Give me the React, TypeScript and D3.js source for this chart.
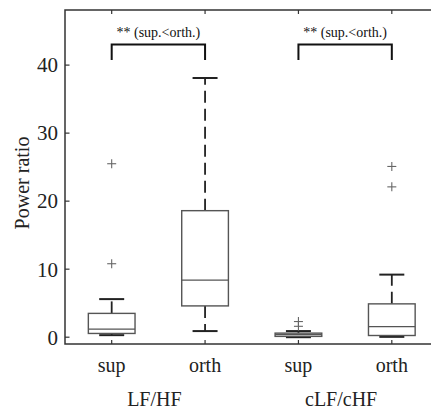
import React from "react";
import * as d3 from "d3";

// Box-plot statistics per category (power ratio)
const groups = ["LF/HF", "cLF/cHF"];
const categories = ["sup", "orth", "sup", "orth"];
const lowerWhisker = [0.3, 0.9, 0.0, 0.05];
const q1 = [0.55, 4.6, 0.12, 0.25];
const median = [1.2, 8.4, 0.4, 1.55];
const q3 = [3.5, 18.6, 0.6, 4.9];
const upperWhisker = [5.6, 38.1, 0.9, 9.2];
const outliers = [[10.8, 25.5], [], [1.6, 2.3], [22.1, 25.1]];
const yTicks = [0, 10, 20, 30, 40];
const significance = ["** (sup.<orth.)", "** (sup.<orth.)"];

const W = 431;
const H = 413;
const left = 65;
const top = 10;
const bottom = 344;
const right = 438.5;

const FONT = "'Liberation Serif', 'Times New Roman', serif";

export default function App() {
  const x = d3.scaleLinear().domain([0.5, 4.5]).range([left, right]);
  const y = d3.scaleLinear().domain([-1, 48.1]).range([bottom, top]);
  const boxHalf = x(1.25) - x(1);
  const capHalf = 12.5;
  const boxColor = "#555";
  const axisColor = "#333";
  const whiskerColor = "#222";

  return (
    <svg
      width={W}
      height={H}
      style={{ position: "absolute", left: 0, top: 0, background: "#fff" }}
      fontFamily={FONT}
    >
      <rect x={0} y={0} width={W} height={H} fill="#fff" />
      {/* frame */}
      <rect
        x={left}
        y={top}
        width={right - left}
        height={bottom - top}
        fill="none"
        stroke={axisColor}
        strokeWidth={1.5}
      />
      {/* y ticks */}
      {yTicks.map((t) => (
        <g key={"yt" + t}>
          <line x1={left} x2={left + 4.5} y1={y(t)} y2={y(t)} stroke={axisColor} strokeWidth={1.2} />
          <text x={58} y={y(t)} dy="0.35em" textAnchor="end" fontSize={21} fill="#222">
            {t}
          </text>
        </g>
      ))}
      {/* x ticks and labels */}
      {categories.map((c, i) => {
        const cx = x(i + 1);
        return (
          <g key={"xt" + i}>
            <line x1={cx} x2={cx} y1={bottom} y2={bottom - 4} stroke={axisColor} strokeWidth={1.2} />
            <line x1={cx} x2={cx} y1={top} y2={top + 4} stroke={axisColor} strokeWidth={1.2} />
            <text x={cx} y={372} textAnchor="middle" fontSize={20} fill="#222">
              {c}
            </text>
          </g>
        );
      })}
      {groups.map((g, gi) => (
        <text
          key={"g" + gi}
          x={(x(gi * 2 + 1) + x(gi * 2 + 2)) / 2 - 4}
          y={406}
          textAnchor="middle"
          fontSize={20}
          fill="#222"
        >
          {g}
        </text>
      ))}
      <text
        transform={`translate(29, ${(top + bottom) / 2 + 6}) rotate(-90)`}
        textAnchor="middle"
        fontSize={20}
        fill="#222"
      >
        Power ratio
      </text>
      {/* boxes */}
      {categories.map((c, i) => {
        const cx = x(i + 1);
        return (
          <g key={"b" + i} fill="none">
            <line
              x1={cx}
              x2={cx}
              y1={y(q3[i])}
              y2={y(upperWhisker[i])}
              stroke={whiskerColor}
              strokeWidth={1.8}
              strokeDasharray="12,6"
            />
            <line
              x1={cx}
              x2={cx}
              y1={y(q1[i])}
              y2={y(lowerWhisker[i])}
              stroke={whiskerColor}
              strokeWidth={1.8}
              strokeDasharray="12,6"
            />
            <line x1={cx - capHalf} x2={cx + capHalf} y1={y(upperWhisker[i])} y2={y(upperWhisker[i])} strokeWidth={2} stroke={whiskerColor} />
            <line x1={cx - capHalf} x2={cx + capHalf} y1={y(lowerWhisker[i])} y2={y(lowerWhisker[i])} strokeWidth={2} stroke={whiskerColor} />
            <rect
              x={cx - boxHalf}
              y={y(q3[i])}
              width={boxHalf * 2}
              height={y(q1[i]) - y(q3[i])}
              fill="#fff"
              stroke={boxColor}
              strokeWidth={1.4}
            />
            <line x1={cx - boxHalf} x2={cx + boxHalf} y1={y(median[i])} y2={y(median[i])} stroke={boxColor} strokeWidth={1.3} />
            {outliers[i].map((o, k) => (
              <g key={k} stroke="#666" strokeWidth={1.1}>
                <line x1={cx - 4.5} x2={cx + 4.5} y1={y(o)} y2={y(o)} />
                <line x1={cx} x2={cx} y1={y(o) - 4.5} y2={y(o) + 4.5} />
              </g>
            ))}
          </g>
        );
      })}
      {/* significance brackets */}
      {significance.map((s, gi) => {
        const x1 = x(gi * 2 + 1);
        const x2 = x(gi * 2 + 2);
        const by = 44.5;
        return (
          <g key={"s" + gi}>
            <path
              d={`M${x1},60 V${by} H${x2} V60`}
              fill="none"
              stroke="#111"
              strokeWidth={2}
            />
            <text x={(x1 + x2) / 2} y={37} textAnchor="middle" fontSize={14} fill="#111">
              {s}
            </text>
          </g>
        );
      })}
    </svg>
  );
}
